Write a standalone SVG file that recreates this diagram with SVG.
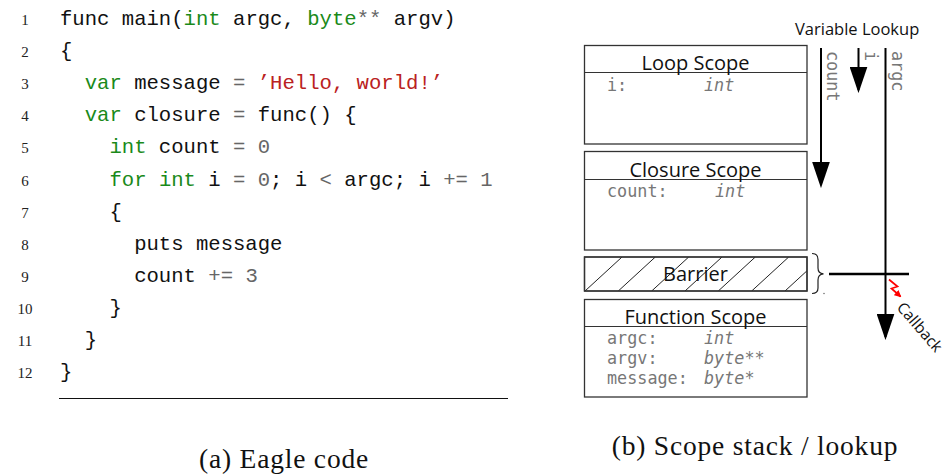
<svg xmlns="http://www.w3.org/2000/svg" width="948" height="476" viewBox="0 0 948 476">
<style>
.ln{font-family:"Liberation Serif",serif;font-size:15px;fill:#222;text-anchor:middle}
.code{font-family:"Liberation Mono",monospace;font-size:20.6px;fill:#111}
.k{fill:#1a8a1a}.o{fill:#666}.s{fill:#ba2121}
.cap{font-family:"Liberation Serif",serif;font-size:27.5px;letter-spacing:0.8px;fill:#111;text-anchor:middle}
.box{fill:#fff;stroke:#333;stroke-width:1.3}
.div{stroke:#333;stroke-width:1.2}
.title{font-family:"Open Sans",sans-serif;font-size:20px;fill:#111;text-anchor:middle}
.var{font-family:"DejaVu Sans Mono",monospace;font-size:16.8px;fill:#777}
.ty{font-style:italic}
.lbl{font-family:"DejaVu Sans Mono",monospace;font-size:16.8px;fill:#777}
.sans{font-family:"Open Sans",sans-serif;font-size:16.5px;fill:#111}
.arr{stroke:#000;stroke-width:2;fill:none}
.hatch{stroke:#222;stroke-width:1}
</style>
<defs>
<marker id="ah" markerUnits="userSpaceOnUse" markerWidth="26" markerHeight="18" viewBox="0 0 25 17" refX="22" refY="8.5" orient="auto">
<path d="M0,0 L25,8.5 L0,17 z" fill="#000"/>
</marker>
<marker id="rh" markerUnits="userSpaceOnUse" markerWidth="7" markerHeight="7" viewBox="0 0 6 6" refX="5" refY="3" orient="auto">
<path d="M0,0 L6,3 L0,6 z" fill="#f00"/>
</marker>
<clipPath id="bclip"><rect x="584.5" y="257" width="222.5" height="34"/></clipPath>
</defs>

<g id="code">
<text class="ln" x="25" y="25">1</text>
<text class="ln" x="25" y="57">2</text>
<text class="ln" x="25" y="89">3</text>
<text class="ln" x="25" y="121">4</text>
<text class="ln" x="25" y="153">5</text>
<text class="ln" x="25" y="186">6</text>
<text class="ln" x="25" y="218">7</text>
<text class="ln" x="25" y="250">8</text>
<text class="ln" x="25" y="282">9</text>
<text class="ln" x="25" y="314">10</text>
<text class="ln" x="25" y="346">11</text>
<text class="ln" x="25" y="378">12</text>
<text class="code" xml:space="preserve" x="60" y="25">func main(<tspan class="k">int</tspan> argc, <tspan class="k">byte</tspan><tspan class="o">**</tspan> argv)</text>
<text class="code" xml:space="preserve" x="60" y="57">{</text>
<text class="code" xml:space="preserve" x="60" y="89">  <tspan class="k">var</tspan> message <tspan class="o">=</tspan> <tspan class="s">’Hello, world!’</tspan></text>
<text class="code" xml:space="preserve" x="60" y="121">  <tspan class="k">var</tspan> closure <tspan class="o">=</tspan> func() {</text>
<text class="code" xml:space="preserve" x="60" y="153">    <tspan class="k">int</tspan> count <tspan class="o">=</tspan> <tspan class="o">0</tspan></text>
<text class="code" xml:space="preserve" x="60" y="186">    <tspan class="k">for</tspan> <tspan class="k">int</tspan> i <tspan class="o">=</tspan> <tspan class="o">0</tspan>; i <tspan class="o">&lt;</tspan> argc; i <tspan class="o">+=</tspan> <tspan class="o">1</tspan></text>
<text class="code" xml:space="preserve" x="60" y="218">    {</text>
<text class="code" xml:space="preserve" x="60" y="250">      puts message</text>
<text class="code" xml:space="preserve" x="60" y="282">      count <tspan class="o">+=</tspan> <tspan class="o">3</tspan></text>
<text class="code" xml:space="preserve" x="60" y="314">    }</text>
<text class="code" xml:space="preserve" x="60" y="346">  }</text>
<text class="code" xml:space="preserve" x="60" y="378">}</text>
<line x1="59" y1="398.5" x2="508" y2="398.5" stroke="#111" stroke-width="1.2"/>
<text class="cap" x="284" y="468">(a) Eagle code</text>
</g>

<g id="loop-scope">
<rect class="box" x="584.5" y="45.5" width="222.5" height="98.5"/>
<line class="div" x1="584.5" y1="72.5" x2="807" y2="72.5"/>
<text class="title" x="695.5" y="69.5">Loop Scope</text>
<text class="var" x="607" y="91">i:</text>
<text class="var ty" x="704" y="91">int</text>
</g>

<g id="closure-scope">
<rect class="box" x="584.5" y="151.5" width="222.5" height="98.5"/>
<line class="div" x1="584.5" y1="179.5" x2="807" y2="179.5"/>
<text class="title" x="695.5" y="176.5">Closure Scope</text>
<text class="var" x="607" y="197">count:</text>
<text class="var ty" x="715" y="197">int</text>
</g>

<g id="barrier">
<rect class="box" x="584.5" y="257" width="222.5" height="34"/>
<g clip-path="url(#bclip)">
<line class="hatch" x1="585" y1="291" x2="622" y2="257"/>
<line class="hatch" x1="618.3" y1="291" x2="655.3" y2="257"/>
<line class="hatch" x1="651.7" y1="291" x2="688.7" y2="257"/>
<line class="hatch" x1="685" y1="291" x2="722" y2="257"/>
<line class="hatch" x1="718.3" y1="291" x2="755.3" y2="257"/>
<line class="hatch" x1="751.7" y1="291" x2="788.7" y2="257"/>
<line class="hatch" x1="785" y1="291" x2="822" y2="257"/>
</g>
<rect x="584.5" y="257" width="222.5" height="34" fill="none" stroke="#333" stroke-width="1.3"/>
<text class="title" x="695.5" y="281">Barrier</text>
</g>

<g id="function-scope">
<rect class="box" x="584.5" y="299.5" width="222.5" height="97.5"/>
<line class="div" x1="584.5" y1="326.5" x2="807" y2="326.5"/>
<text class="title" x="695.5" y="323.5">Function Scope</text>
<text class="var" x="607" y="344">argc:</text>
<text class="var ty" x="704" y="344">int</text>
<text class="var" x="607" y="364">argv:</text>
<text class="var ty" x="704" y="364">byte**</text>
<text class="var" x="607" y="384">message:</text>
<text class="var ty" x="704" y="384">byte*</text>
</g>

<g id="lookup">
<text class="sans" x="795" y="35">Variable Lookup</text>
<text class="lbl" transform="translate(827,51) rotate(90)">count</text>
<text class="lbl" transform="translate(865,51) rotate(90)">i</text>
<text class="lbl" transform="translate(891.5,51) rotate(90)">argc</text>
<text class="sans" style="font-size:15.5px" transform="translate(896,308) rotate(49)">Callback</text>
</g>

<g id="connectors">
<line class="arr" x1="821" y1="48" x2="821" y2="185" marker-end="url(#ah)"/>
<line class="arr" x1="858.5" y1="48" x2="858.5" y2="90" marker-end="url(#ah)"/>
<line class="arr" x1="885.5" y1="48" x2="885.5" y2="337" marker-end="url(#ah)"/>
<line x1="829" y1="274" x2="909" y2="274" stroke="#000" stroke-width="2.5"/>
<path d="M812,253.5 Q818,253.5 818,259.5 L818,268 Q818,273.5 823.5,273.8 Q818,274.2 818,280 L818,288 Q818,293.5 812,293.5" fill="none" stroke="#222" stroke-width="1.2"/>
<circle cx="824" cy="293.5" r="0.7" fill="#555"/>
<polyline points="889,279.5 897.5,286.5 891.5,288.5 900.5,296.5" fill="none" stroke="#f00" stroke-width="1.7" marker-end="url(#rh)"/>
</g>

<text class="cap" x="755" y="455">(b) Scope stack / lookup</text>
</svg>
